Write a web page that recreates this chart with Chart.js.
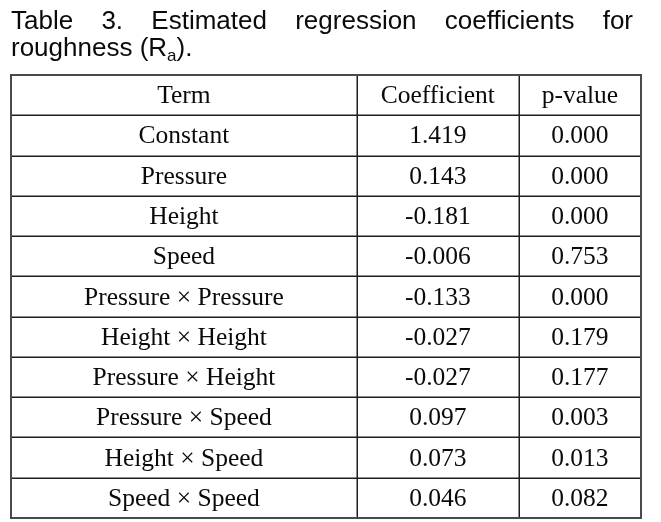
<!DOCTYPE html>
<html>
<head>
<meta charset="utf-8">
<script src="https://cdn.jsdelivr.net/npm/chart.js@4"></script>
<style>
  html, body { margin: 0; padding: 0; background: #fff; }
  #wrap { width: 661px; height: 522px; }
</style>
</head>
<body>
<div id="wrap"><canvas id="tabela" width="661" height="522"></canvas></div>
<script>
// Table 3 - regression coefficients for roughness
const titleLine1 = ['Table', '3.', 'Estimated', 'regression', 'coefficients', 'for'];
const titleLine2 = 'roughness (R';
const headers = ['Term', 'Coefficient', 'p-value'];
const terms = [
  'Constant', 'Pressure', 'Height', 'Speed',
  'Pressure \u00d7 Pressure', 'Height \u00d7 Height', 'Pressure \u00d7 Height',
  'Pressure \u00d7 Speed', 'Height \u00d7 Speed', 'Speed \u00d7 Speed'
];
const coefficients = [1.419, 0.143, -0.181, -0.006, -0.133, -0.027, -0.027, 0.097, 0.073, 0.046];
const pValues = [0.000, 0.000, 0.000, 0.753, 0.000, 0.179, 0.177, 0.003, 0.013, 0.082];

// layout (fractions of the table width)
const colEdges = [0, 0.549, 0.806, 1];
const rowLabels = ['header'].concat(terms);

const tablePlugin = {
  id: 'tablePlugin',
  afterDraw(chart) {
    const ctx = chart.ctx;
    const x = chart.scales.x;
    const y = chart.scales.y;
    const area = chart.chartArea;

    // title, first line justified
    ctx.save();
    ctx.fillStyle = '#0a0a0a';
    ctx.textBaseline = 'alphabetic';
    ctx.font = '26px "Liberation Sans", Arial, sans-serif';
    const left = 11, right = 633;
    const widths = titleLine1.map(w => ctx.measureText(w).width);
    const total = widths.reduce((a, b) => a + b, 0);
    const gap = (right - left - total) / (titleLine1.length - 1);
    let px = left;
    titleLine1.forEach((w, i) => {
      ctx.fillText(w, px, 29);
      px += widths[i] + gap;
    });
    ctx.fillText(titleLine2, left, 56);
    let px2 = left + ctx.measureText(titleLine2).width;
    ctx.font = '17px "Liberation Sans", Arial, sans-serif';
    ctx.fillText('a', px2, 61);
    px2 += ctx.measureText('a').width;
    ctx.font = '26px "Liberation Sans", Arial, sans-serif';
    ctx.fillText(').', px2, 56);

    // cell text
    ctx.font = '25.5px "Liberation Serif", "Times New Roman", serif';
    ctx.textAlign = 'center';
    rowLabels.forEach((lab, i) => {
      const cy = y.getPixelForValue(i) + 8;
      const cells = i === 0 ? headers :
        [terms[i - 1], coefficients[i - 1].toFixed(3), pValues[i - 1].toFixed(3)];
      cells.forEach((txt, c) => {
        const cx = (x.getPixelForValue(colEdges[c]) + x.getPixelForValue(colEdges[c + 1])) / 2;
        ctx.fillText(txt, cx, cy);
      });
    });

    // inner rules
    ctx.strokeStyle = '#1e1e1e';
    ctx.lineWidth = 1.5;
    for (let i = 1; i < rowLabels.length; i++) {
      const ly = Math.round(y.getPixelForValue(i - 0.5)) + 0.25;
      ctx.beginPath();
      ctx.moveTo(area.left, ly);
      ctx.lineTo(area.right, ly);
      ctx.stroke();
    }
    for (let c = 1; c < colEdges.length - 1; c++) {
      const lx = Math.round(x.getPixelForValue(colEdges[c])) + 0.25;
      ctx.beginPath();
      ctx.moveTo(lx, area.top);
      ctx.lineTo(lx, area.bottom);
      ctx.stroke();
    }

    // outer border
    ctx.strokeStyle = '#4a4a4a';
    ctx.lineWidth = 2;
    ctx.strokeRect(area.left, area.top, area.right - area.left, area.bottom - area.top);
    ctx.restore();
  }
};

new Chart(document.getElementById('tabela').getContext('2d'), {
  type: 'scatter',
  data: { datasets: [{ data: [] }] },
  options: {
    responsive: false,
    animation: false,
    layout: { padding: { left: 11, right: 20, top: 75, bottom: 4 } },
    plugins: { legend: { display: false }, tooltip: { enabled: false }, title: { display: false } },
    scales: {
      x: { type: 'linear', min: 0, max: 1, display: false },
      y: { type: 'category', labels: rowLabels, offset: true, display: false }
    }
  },
  plugins: [tablePlugin]
});
</script>
</body>
</html>
